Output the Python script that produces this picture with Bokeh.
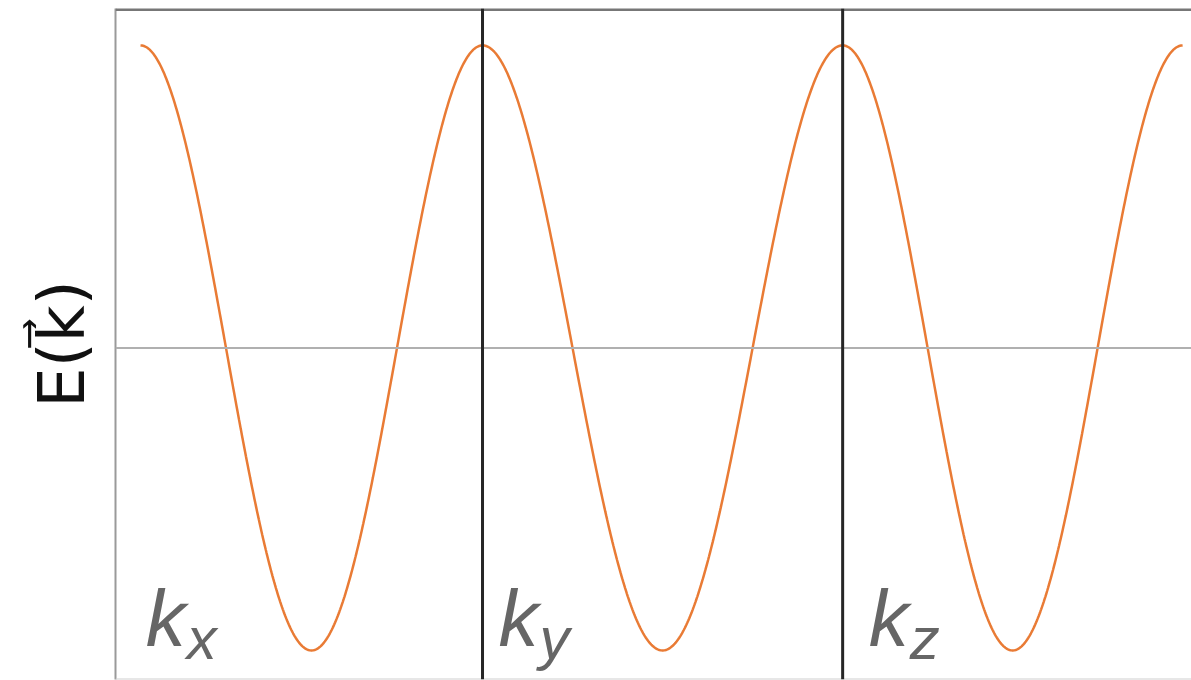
import numpy as np
from bokeh.plotting import figure
from bokeh.models import Span, ColumnDataSource, FixedTicker
from bokeh.core.properties import value
from bokeh.embed import file_html
from bokeh.resources import INLINE

# Tight-binding band along the three Cartesian directions of k-space
directions = ["x", "y", "z"]
# positions of the segment boundaries along the k-path
segment_edges = [0.0, 1.0, 2.053, 3.047]
band_center = 0.0
half_bandwidth = 1.0  # 2t

# E(k) = E0 - 2t cos(k a), k a from -pi to pi in every direction
ka = np.linspace(-np.pi, np.pi, 400)
xs, ys = [], []
for i in range(len(directions)):
    x0, x1 = segment_edges[i], segment_edges[i + 1]
    xs.append(x0 + (ka + np.pi) / (2 * np.pi) * (x1 - x0))
    ys.append(band_center - half_bandwidth * np.cos(ka))

p = figure(width=1191, height=680, output_backend="svg", toolbar_location=None,
           x_range=(-0.0731, 3.073), y_range=(-1.096, 1.122),
           min_border_left=115, min_border_right=0, min_border_top=8,
           min_border_bottom=1)
p.xaxis.visible = False
p.grid.visible = False
p.outline_line_color = None
p.background_fill_color = "white"
p.border_fill_color = "white"

# left axis: only its line and the energy title
yax = p.yaxis[0]
yax.ticker = FixedTicker(ticks=[])
yax.major_tick_line_color = None
yax.minor_tick_line_color = None
yax.major_label_text_font_size = "0px"
yax.axis_line_color = "#9a9a9a"
yax.axis_line_width = 2
yax.axis_label = "E(k\u20d7)"
yax.axis_label_text_font = "DejaVu Sans"
yax.axis_label_text_font_size = "64px"
yax.axis_label_text_font_style = "normal"
yax.axis_label_text_color = "#111111"
yax.axis_label_standoff = 17

# top and bottom frame edges
p.add_layout(Span(location=p.y_range.end, dimension="width",
                  line_color="#777777", line_width=5))
p.add_layout(Span(location=p.y_range.start, dimension="width",
                  line_color="#cfcfcf", line_width=2))

# band center
p.add_layout(Span(location=band_center, dimension="width",
                  line_color="#b0b0b0", line_width=2))

# the band itself
src = ColumnDataSource(dict(xs=xs, ys=ys))
p.multi_line("xs", "ys", source=src, line_color="#E97B35", line_width=2.5)

# boundaries between the directions
for edge in segment_edges[1:-1]:
    p.add_layout(Span(location=edge, dimension="height",
                      line_color="#262626", line_width=3))

# direction labels k_x, k_y, k_z
label_offsets = [0.015, 0.047, 0.076]
lx = [segment_edges[i] + label_offsets[i] for i in range(len(directions))]
lab = ColumnDataSource(dict(x=lx, k=["k"] * len(directions), sub=directions))
p.text(x="x", y=-0.894, text="k", source=lab,
       text_font=value("Liberation Sans"), text_font_style="italic",
       text_font_size="80px", text_color="#666666", text_align="left",
       text_baseline="alphabetic")
p.text(x="x", y=-0.962, x_offset=41, text="sub", source=lab,
       text_font=value("Liberation Sans"), text_font_style="italic",
       text_font_size="60px", text_color="#666666", text_align="left",
       text_baseline="alphabetic")

open("out.html", "w").write(file_html(p, INLINE))
